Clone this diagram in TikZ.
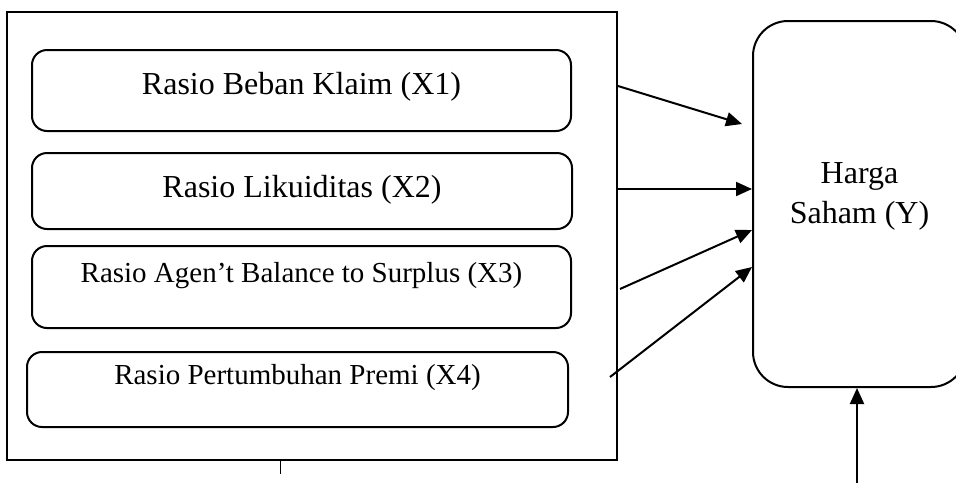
\documentclass[tikz,border=0pt]{standalone}
\usepackage{fontspec}
\setmainfont{Liberation Serif}
\usetikzlibrary{arrows.meta}

\begin{document}
\begin{tikzpicture}[x=1pt,y=-1pt,
        outerbox/.style={draw,line width=2pt,minimum width=610pt,minimum height=448pt},
        varbox/.style={draw,line width=2pt,rounded corners=15pt,inner sep=0pt},
        arr/.style={line width=2pt,-{Triangle[length=16pt,width=14pt]}}]

        \useasboundingbox (0,0) rectangle (956,483);

        \node[outerbox] (outer) at (312,236) {};
        \node[varbox,minimum width=539pt,minimum height=81pt,font=\fontsize{32}{38}\selectfont,
              text height=22pt,text depth=15pt] (x1) at (301.5,90.5) {Rasio Beban Klaim (X1)};
        \node[varbox,minimum width=540pt,minimum height=76pt,font=\fontsize{32}{38}\selectfont,
              text height=22pt,text depth=9pt] (x2) at (302,191) {Rasio Likuiditas (X2)};
        \node[varbox,minimum width=539pt,minimum height=82pt,font=\fontsize{29}{35}\selectfont,
              text height=21pt,text depth=30pt] (x3) at (301.5,287) {Rasio Agen’t Balance to Surplus (X3)};
        \node[varbox,minimum width=541pt,minimum height=75pt,font=\fontsize{29}{35}\selectfont,
              text height=21pt,text depth=32pt] (x4) at (297.5,389.5) {Rasio Pertumbuhan Premi (X4)};
        \node[varbox,rounded corners=35pt,minimum width=213pt,minimum height=366pt,align=center,
              font=\fontsize{32}{40}\selectfont,text height=60pt,text depth=22pt] (y) at (859.5,204) {Harga\\Saham (Y)};

        \coordinate (foot) at (857,483);
        \coordinate (tick) at (280,474);

        \draw[arr] ([yshift=150pt]outer.east) -- ([xshift=-10pt,yshift=80pt]y.west);
        \draw[arr] ([yshift=47pt]outer.east) -- ([yshift=15pt]y.west);
        \draw[arr] ([xshift=2pt,yshift=-53pt]outer.east) -- ([yshift=-26pt]y.west);
        \draw[arr] ([xshift=-8pt,yshift=-141pt]outer.east) -- ([yshift=-63pt]y.west);
        \draw[arr] (foot) -- (y.south -| foot);
        \draw[line width=1pt] (outer.south -| tick) -- (tick);
    \end{tikzpicture}
\end{document}
